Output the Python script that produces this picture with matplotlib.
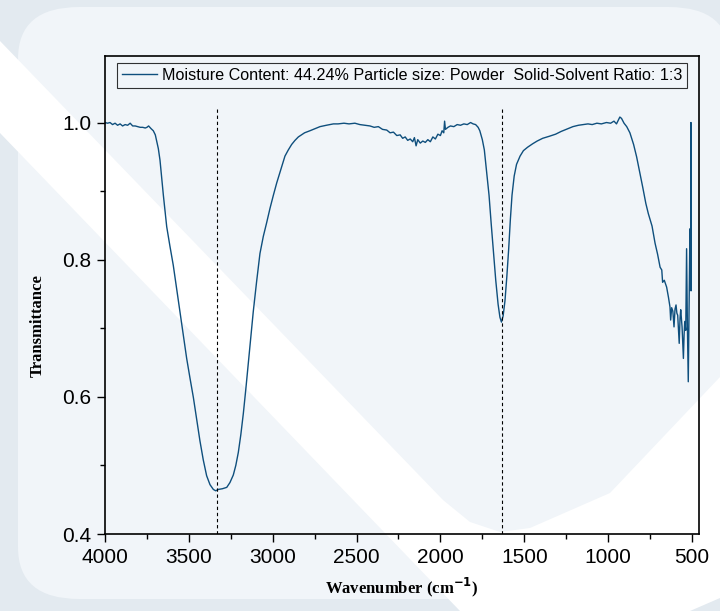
import matplotlib
matplotlib.use("Agg")
import matplotlib.pyplot as plt
from matplotlib.patches import FancyBboxPatch, Polygon
from matplotlib.ticker import MultipleLocator

# ---------------- data ----------------
wavenumber = [
    4000, 3985, 3970, 3955, 3940, 3925, 3910, 3895, 3880, 3865, 3850, 3835, 3820, 3805,
    3790, 3775, 3760, 3750, 3740,
    3725, 3712, 3700, 3692, 3682, 3672, 3662, 3652, 3632, 3613, 3593, 3573, 3553, 3533,
    3513, 3493, 3473, 3453, 3434, 3414, 3394, 3374, 3354, 3340, 3324, 3300, 3274, 3255,
    3235, 3220, 3205, 3190, 3175, 3160, 3145, 3130, 3116, 3096, 3076, 3056, 3036, 3016,
    2996, 2976, 2956, 2940, 2927, 2907, 2887, 2867, 2847, 2810, 2778, 2748, 2718, 2680,
    2638, 2610, 2575, 2545, 2510, 2480, 2450, 2420, 2395, 2370, 2345, 2320, 2300, 2280,
    2260, 2240, 2225, 2210, 2195, 2180, 2165, 2155, 2145, 2135, 2120, 2105, 2090, 2075,
    2060, 2045, 2030, 2015, 2000, 1990, 1980, 1975, 1970, 1955, 1940, 1920, 1900, 1880,
    1860, 1840, 1820, 1805, 1790, 1775, 1765, 1750, 1738, 1725, 1710, 1697, 1683, 1670,
    1656, 1645, 1636, 1626, 1615, 1604, 1593, 1583, 1573, 1560, 1546, 1525, 1505, 1480,
    1450, 1423, 1390, 1350, 1313, 1280, 1240, 1210, 1177, 1150, 1120, 1095, 1067, 1040,
    1010, 985, 965, 950, 940, 930, 920, 905, 889, 870, 848, 830, 810, 793, 775, 760, 738,
    720, 705, 690, 680, 675, 665, 651, 640, 631, 627, 621, 614, 607, 601, 595, 590, 585,
    576, 571, 567, 559, 551, 547, 543, 537, 532, 527, 522, 516, 512, 508, 506, 504,
]
transmittance = [
    1.000, 0.999, 1.000, 0.997, 0.999, 0.996, 0.998, 0.995, 0.997, 0.996, 0.999, 0.995, 0.995, 0.994,
    0.993, 0.993, 0.992, 0.993, 0.995,
    0.991, 0.988, 0.982, 0.973, 0.962, 0.945, 0.920, 0.894, 0.848, 0.820, 0.792, 0.758, 0.724, 0.690,
    0.656, 0.627, 0.599, 0.567, 0.536, 0.508, 0.485, 0.472, 0.465, 0.463, 0.465, 0.466, 0.468, 0.475,
    0.486, 0.500, 0.519, 0.545, 0.576, 0.612, 0.650, 0.688, 0.724, 0.768, 0.809, 0.834, 0.854, 0.875,
    0.894, 0.912, 0.928, 0.941, 0.951, 0.960, 0.968, 0.974, 0.979, 0.985, 0.988, 0.991, 0.994, 0.996,
    0.998, 0.998, 0.999, 0.998, 0.999, 0.997, 0.996, 0.995, 0.993, 0.994, 0.990, 0.989, 0.985, 0.986,
    0.981, 0.982, 0.977, 0.979, 0.974, 0.976, 0.972, 0.978, 0.966, 0.975, 0.970, 0.973, 0.971, 0.975,
    0.972, 0.979, 0.976, 0.983, 0.981, 0.988, 0.985, 1.002, 0.990, 0.993, 0.995, 0.994, 0.997, 0.996,
    0.998, 0.997, 1.000, 0.998, 0.997, 0.993, 0.988, 0.975, 0.960, 0.930, 0.894, 0.852, 0.809, 0.770,
    0.735, 0.716, 0.709, 0.718, 0.740, 0.775, 0.815, 0.858, 0.894, 0.922, 0.939, 0.951, 0.959, 0.964,
    0.969, 0.973, 0.977, 0.980, 0.983, 0.987, 0.991, 0.994, 0.996, 0.997, 0.998, 0.997, 0.999, 0.998,
    1.000, 0.999, 1.002, 0.998, 1.003, 1.008, 1.006, 0.999, 0.994, 0.985, 0.968, 0.950, 0.926, 0.905,
    0.882, 0.867, 0.849,
    0.824, 0.808, 0.789, 0.785, 0.767, 0.770, 0.760, 0.745, 0.731, 0.712, 0.730, 0.725, 0.702, 0.728,
    0.734, 0.722, 0.719,
    0.678, 0.715, 0.727, 0.702, 0.656, 0.690, 0.710, 0.697, 0.816, 0.700, 0.622, 0.750, 0.845, 0.755,
    1.000, 0.755,
]
peak_positions = [3330, 1635]
legend_label = "Moisture Content: 44.24% Particle size: Powder  Solid-Solvent Ratio: 1:3"
x_ticks = [4000, 3500, 3000, 2500, 2000, 1500, 1000, 500]
y_ticks = [0.4, 0.6, 0.8, 1.0]

# ---------------- figure ----------------
W, H = 720, 611
fig = plt.figure(figsize=(W / 100, H / 100), dpi=100)
fig.patch.set_facecolor("#e3eaf0")


def px(x, y):
    return (x / W, 1 - y / H)


card = FancyBboxPatch(px(18, 599), (W - 8) / W, (599 - 7) / H,
                      boxstyle="round,pad=0,rounding_size=0.085",
                      transform=fig.transFigure, facecolor="#f1f5f9",
                      edgecolor="none", zorder=0)
fig.add_artist(card)
white_pts = [(0, 41), (443, 500), (470, 522), (500, 532), (530, 528), (610, 493),
             (720, 377), (720, 598), (690, 611), (460, 611), (0, 133)]
band = Polygon([px(x, y) for x, y in white_pts], closed=True,
               transform=fig.transFigure, facecolor="#ffffff", edgecolor="none",
               zorder=0.5)
fig.add_artist(band)

ax = fig.add_axes([105 / W, 1 - 534 / H, (699 - 105) / W, (534 - 56) / H])
ax.set_facecolor("none")
ax.set_zorder(2)

ax.plot(wavenumber, transmittance, color="#0f4f7d", lw=1.0, label=legend_label)
ax.vlines(peak_positions, 0.4, 1.022, colors="black", linestyles=(0, (3, 2.5)), lw=0.8)

ax.set_xlim(4000, 458)
ax.set_ylim(0.4, 1.097)
ax.set_xticks(x_ticks)
ax.set_yticks(y_ticks)
ax.set_yticklabels([f"{v:.1f}" for v in y_ticks])
ax.xaxis.set_minor_locator(MultipleLocator(250))
ax.yaxis.set_minor_locator(MultipleLocator(0.1))
ax.tick_params(which="both", direction="out", top=False, right=False, width=1.0)
ax.tick_params(which="major", length=6, labelsize=15, pad=4)
ax.tick_params(which="minor", length=3.5)
for lab in ax.get_xticklabels() + ax.get_yticklabels():
    lab.set_fontfamily("Liberation Sans")
for s in ax.spines.values():
    s.set_linewidth(1.2)

ax.set_xlabel("Wavenumber (cm$^{\\mathbf{-1}}$)", fontfamily="Liberation Serif",
              fontweight="bold", fontsize=12, labelpad=6)
ax.set_ylabel("Transmittance", fontfamily="Liberation Serif", fontweight="bold",
              fontsize=12)
ax.yaxis.set_label_coords(-0.099, 0.437)

leg = ax.legend(loc="upper center", frameon=True, fancybox=False,
                handlelength=2.2, handletextpad=0.3, borderaxespad=0.45,
                borderpad=0.3, prop={"family": "Liberation Sans", "size": 11.6})
leg.get_frame().set_edgecolor("black")
leg.get_frame().set_linewidth(0.8)
leg.get_frame().set_facecolor("none")

fig.savefig("out.png", dpi=100, facecolor=fig.get_facecolor())
